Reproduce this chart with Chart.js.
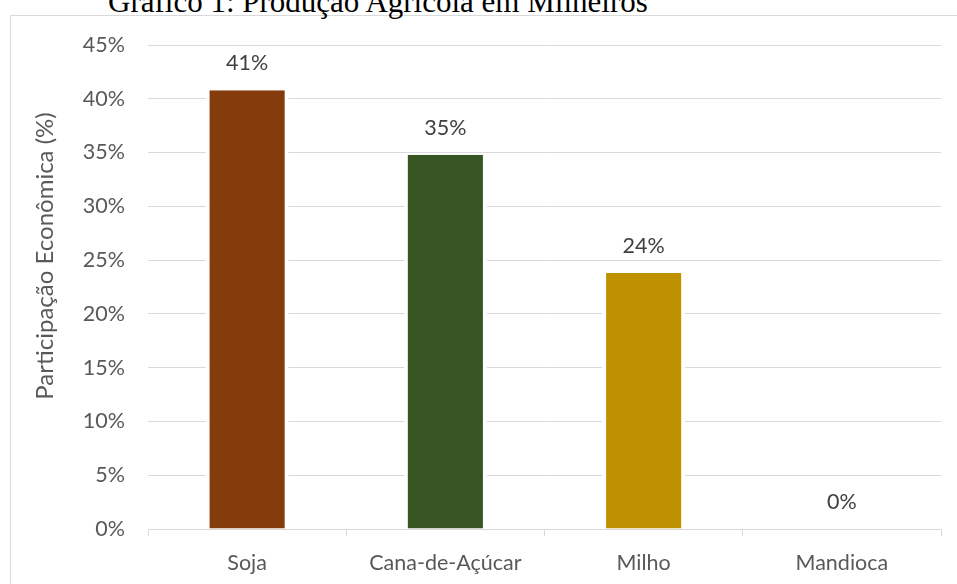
<!DOCTYPE html>
<html>
<head>
<meta charset="utf-8">
<script src="https://cdn.jsdelivr.net/npm/chart.js@4.4.1/dist/chart.umd.min.js"></script>
<style>
    html, body { margin: 0; padding: 0; background: #fff; overflow: hidden; }
    #wrap { position: relative; width: 957px; height: 584px; }
    #frame { position: absolute; left: 10px; top: 15px; width: 1000px; height: 700px; border: 1px solid #d9d9d9; box-sizing: border-box; }
    #title { position: absolute; left: 108px; top: -16px; font: 31px "Liberation Serif", "Times New Roman", serif; color: #000; white-space: nowrap; }
    #chart { position: absolute; left: 0; top: 0; }
</style>
</head>
<body>
<div id="wrap">
    <div id="frame"></div>
    <div id="title">Gráfico 1: Produção Agrícola em Milheiros</div>
    <canvas id="chart" width="957" height="584"></canvas>
</div>
<script>
const categories = ['Soja', 'Cana-de-Açúcar', 'Milho', 'Mandioca'];
const shares = [40.8, 34.8, 23.8, 0];
const barColors = ['#843C0C', '#375623', '#BF9000', '#7F6000'];
const yTicks = [0, 5, 10, 15, 20, 25, 30, 35, 40, 45];
const yTitle = 'Participação Econômica (%)';

const FONT = 'Lato, "Open Sans", sans-serif';

const barLabels = {
    id: 'barLabels',
    afterDatasetsDraw(chart) {
        const ctx = chart.ctx;
        const meta = chart.getDatasetMeta(0);
        ctx.save();
        ctx.font = '21.5px ' + FONT;
        ctx.fillStyle = '#404040';
        ctx.textAlign = 'center';
        ctx.textBaseline = 'middle';
        meta.data.forEach((bar, i) => {
            ctx.fillText(Math.round(shares[i]) + '%', bar.x, bar.y - 27);
        });
        ctx.restore();
    }
};

const axisTitle = {
    id: 'axisTitle',
    afterDraw(chart) {
        const ctx = chart.ctx;
        ctx.save();
        ctx.translate(45, 256);
        ctx.rotate(-Math.PI / 2);
        ctx.font = '24px ' + FONT;
        ctx.fillStyle = '#595959';
        ctx.textAlign = 'center';
        ctx.textBaseline = 'middle';
        ctx.fillText(yTitle, 0, 0);
        ctx.restore();
    }
};

new Chart(document.getElementById('chart').getContext('2d'), {
    type: 'bar',
    data: {
        labels: categories,
        datasets: [{
            data: shares,
            backgroundColor: barColors,
            borderColor: '#ffffff',
            borderWidth: { top: 0, left: 4, right: 4, bottom: 0 },
            barPercentage: 0.419,
            categoryPercentage: 1
        }]
    },
    options: {
        responsive: false,
        animation: false,
        layout: { padding: { left: 0, top: 45, right: 16, bottom: 0 } },
        plugins: {
            legend: { display: false },
            tooltip: { enabled: false }
        },
        scales: {
            x: {
                afterFit: (scale) => { scale.height = 55; },
                grid: {
                    offset: true,
                    drawOnChartArea: false,
                    drawTicks: true,
                    tickLength: 7,
                    color: '#d9d9d9'
                },
                border: { color: '#d9d9d9', width: 1 },
                ticks: {
                    color: '#595959',
                    font: { family: FONT, size: 21.5 },
                    padding: 14
                }
            },
            y: {
                min: 0,
                max: 45,
                afterFit: (scale) => { scale.width = 148; },
                afterBuildTicks: (scale) => { scale.ticks = yTicks.map(v => ({ value: v })); },
                grid: { color: '#d9d9d9', drawTicks: false },
                border: { display: false },
                ticks: {
                    color: '#595959',
                    font: { family: FONT, size: 21.5 },
                    padding: 23,
                    callback: (v) => v + '%'
                }
            }
        }
    },
    plugins: [barLabels, axisTitle]
});
</script>
</body>
</html>
